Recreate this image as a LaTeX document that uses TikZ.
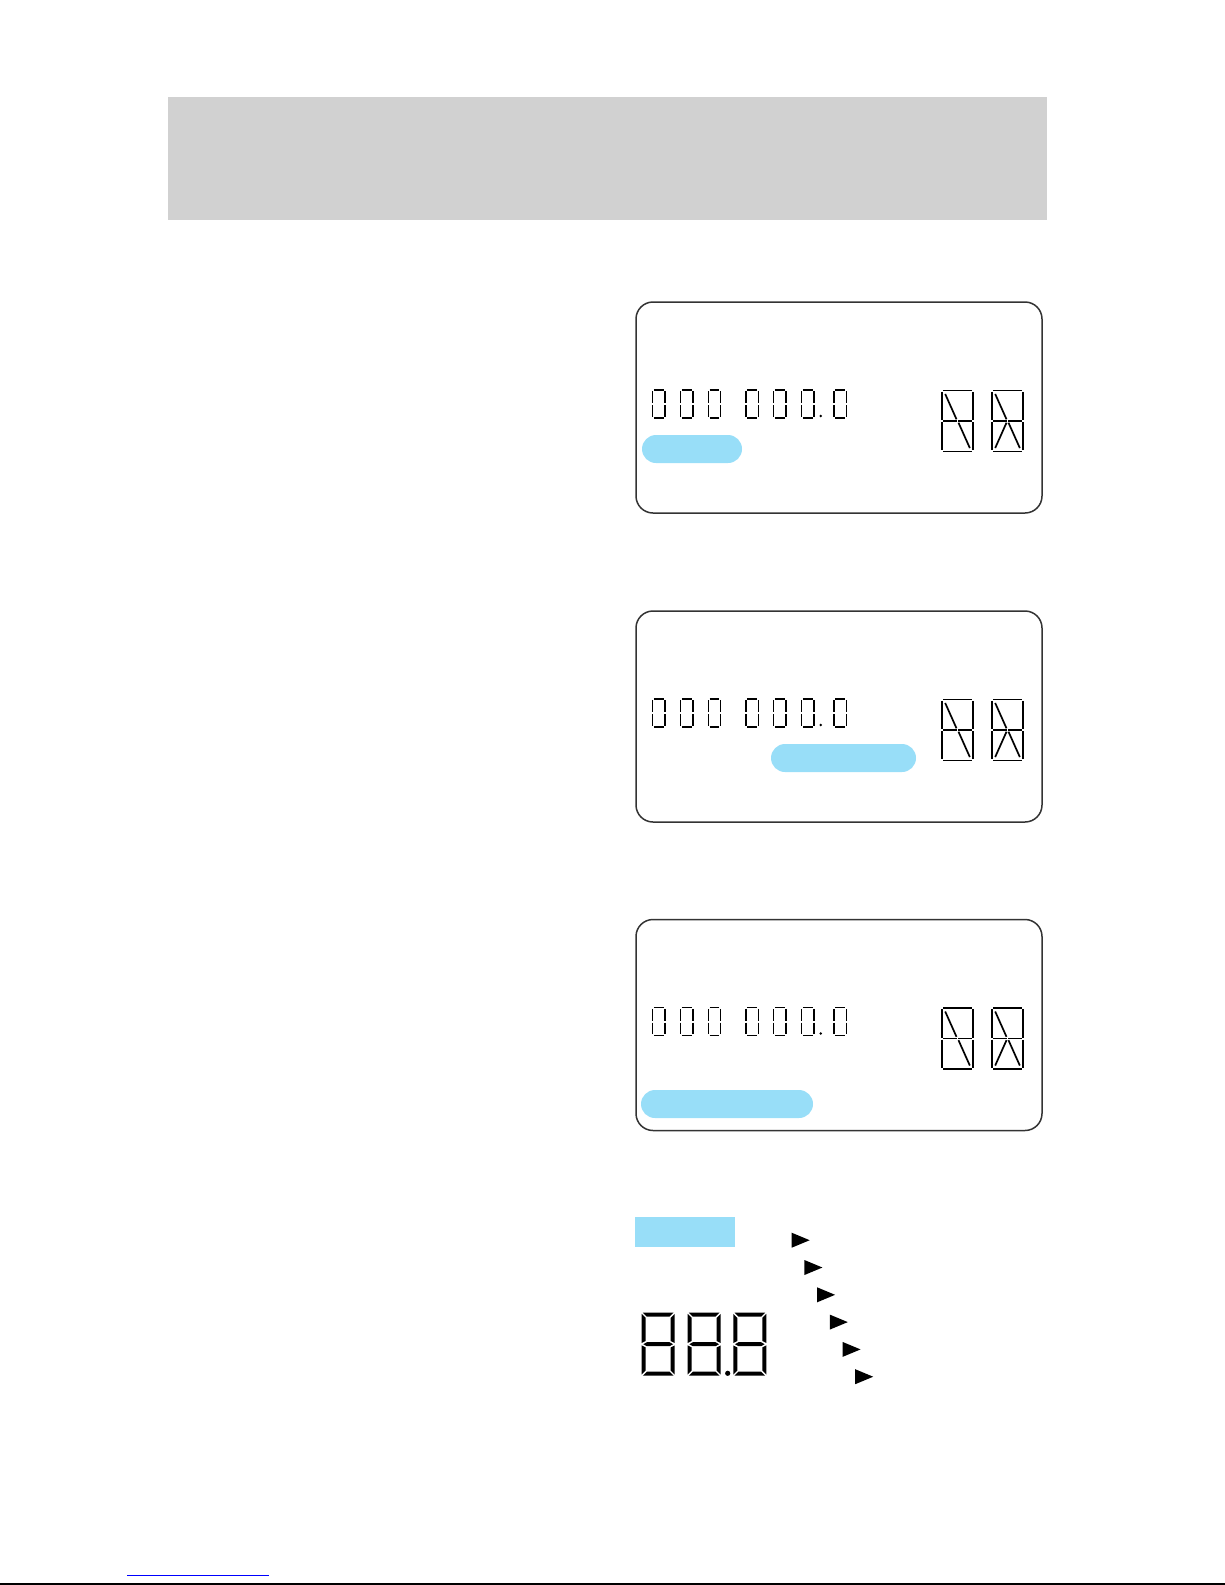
\documentclass[tikz,border=0pt]{standalone}
\usepackage{tikz}
\definecolor{headgray}{RGB}{209,209,209}
\definecolor{lcdblue}{RGB}{152,222,248}

\tikzset{
  lcdzero/.pic={
    \draw[segline] (1.4,0)--(11.1,0) (1.4,28)--(11.1,28)
      (0,1.4)--(0,13) (0,15)--(0,26.6) (12.5,1.4)--(12.5,13) (12.5,15)--(12.5,26.6);
  },
  alnumframe/.pic={
    \draw[alnumline] (1.3,0)--(30.3,0) (1.3,61)--(30.3,61)
      (0,1.3)--(0,29.5) (0,31.5)--(0,59.7) (31.6,1.3)--(31.6,29.5) (31.6,31.5)--(31.6,59.7)
      (1.3,30.5)--(15.2,30.5) (16.4,30.5)--(30.3,30.5);
  },
  glyphleft/.pic={
    \pic {alnumframe};
    \draw[alnumline] (3.5,3.5)--(14.8,28.8) (16.8,32.2)--(28.1,57.5);
  },
  glyphright/.pic={
    \pic {alnumframe};
    \draw[alnumline] (3.5,3.5)--(14.8,28.8) (14.8,32.2)--(3.5,57.5) (16.8,32.2)--(28.1,57.5);
  },
  bigeight/.pic={
    \fill (1.2,0)--(31.8,0)--(27.8,4)--(5.2,4)--cycle
      (1.2,63)--(31.8,63)--(27.8,59)--(5.2,59)--cycle
      (1.7,31.5)--(5.2,29.5)--(27.8,29.5)--(31.3,31.5)--(27.8,33.5)--(5.2,33.5)--cycle
      (0,1.2)--(4,5.2)--(4,28.3)--(0,30.3)--cycle
      (0,32.7)--(4,34.7)--(4,57.8)--(0,61.8)--cycle
      (33,1.2)--(29,5.2)--(29,28.3)--(33,30.3)--cycle
      (33,32.7)--(29,34.7)--(29,57.8)--(33,61.8)--cycle;
  }
}

\begin{document}
\begin{tikzpicture}[x=0.5pt,y=-0.5pt,
  segline/.style={line width=0.65pt},
  alnumline/.style={line width=0.85pt},
  panel/.style={draw=black!80,line width=0.75pt,rounded corners=8.5pt},
  pill/.style={fill=lcdblue,rounded corners=7pt}]
  \useasboundingbox (0,0) rectangle (1225,1585);
  \fill[headgray] (168,97) rectangle (1047,220);

  \foreach \dy/\pillx/\pilly/\pillr in {0/642/435/742, 309/771/435/916, 617.5/641/472.5/813}{
    \begin{scope}[shift={(0,\dy)}]
      \draw[panel] (636,302) rectangle (1042,513);
      \fill[pill] (\pillx,\pilly) rectangle (\pillr,\pilly+28);
      \foreach \dx in {652.5,680.5,708.3,746,773.5,801.5,834}
        \pic at (\dx,390) {lcdzero};
      \fill (820.7,416) circle (0.7pt);
      \pic at (941.7,390.5) {glyphleft};
      \pic at (991.7,390.5) {glyphright};
    \end{scope}
  }

  \fill[lcdblue] (635,1217) rectangle (735,1247);
  \foreach \i in {0,...,5}
    \fill (791.7+12.7*\i,1232.7+27.3*\i) -- ++(18,7.5) -- ++(-18,7.5) -- cycle;
  \foreach \dx in {641.7,687.7,733.3}
    \pic at (\dx,1312.7) {bigeight};
  \fill (727.7,1373.3) circle (1.3pt);

  \draw[blue,line width=0.7pt] (127,1575.3) -- (269,1575.3);
  \draw[line width=1pt] (0,1584) -- (1225,1584);
\end{tikzpicture}
\end{document}
